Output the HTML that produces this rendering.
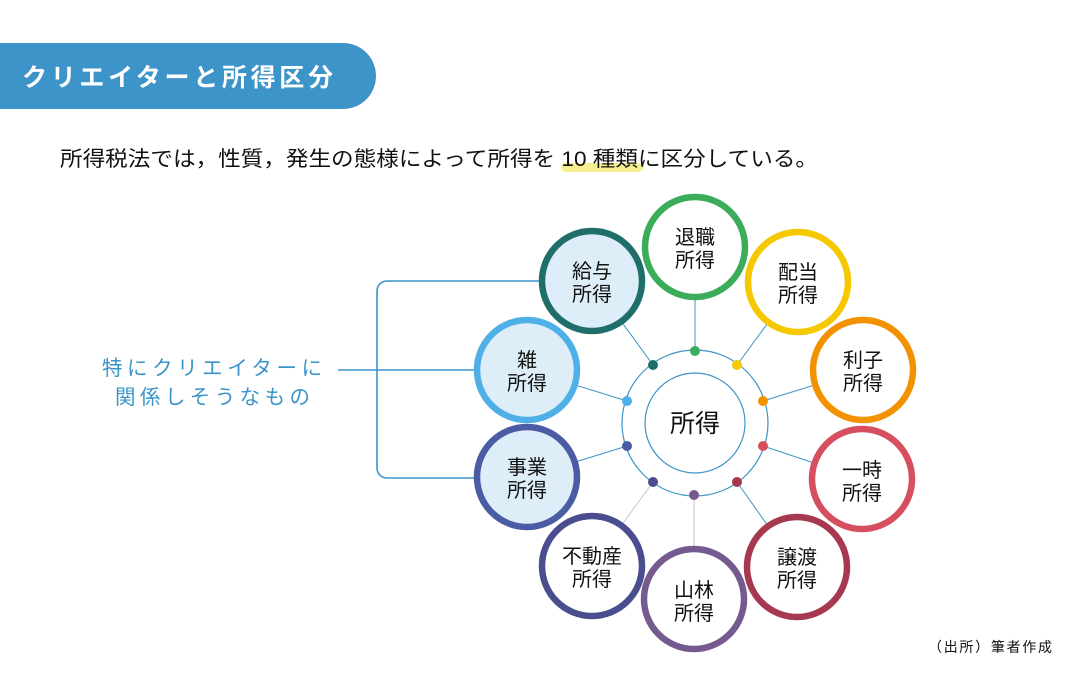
<!DOCTYPE html>
<html><head><meta charset="utf-8"><style>
body{margin:0;background:#fff;}
svg text{font-family:"Liberation Sans","Noto Sans CJK JP",sans-serif;}
</style></head><body>
<svg width="1087" height="691" viewBox="0 0 1087 691" xmlns="http://www.w3.org/2000/svg">
<rect width="1087" height="691" fill="#fff"/>
<path d="M0 43 H343 A33 33 0 0 1 343 109 H0 Z" fill="#3d94c8"/>
<text x="22" y="86" font-size="25" font-weight="bold" fill="#fff" textLength="311" lengthAdjust="spacing">クリエイターと所得区分</text>
<rect x="561" y="163" width="82" height="9" rx="4.5" fill="#f7ee8f"/>
<text x="60" y="166" font-size="21" fill="#111" textLength="758" lengthAdjust="spacingAndGlyphs">所得税法では，性質，発生の態様によって所得を 10 種類に区分している。</text>
<text x="102" y="375" font-size="20.5" fill="#3b94c9" textLength="220" lengthAdjust="spacing">特にクリエイターに</text>
<text x="115" y="404" font-size="20.5" fill="#3b94c9" textLength="195" lengthAdjust="spacing">関係しそうなもの</text>
<g fill="none" stroke="#3d94c8" stroke-width="1.6">
<path d="M545 281 H387 A10 10 0 0 0 377 291 V468 A10 10 0 0 0 387 478 H480"/>
<path d="M338 370 H480"/>
</g>
<g stroke="#3d94c8" stroke-width="1">
<line x1="695" y1="297" x2="695" y2="351"/>
<line x1="592" y1="281" x2="653" y2="365"/>
<line x1="798" y1="282" x2="737" y2="365"/>
<line x1="863" y1="370" x2="763" y2="401"/>
<line x1="527" y1="370" x2="627" y2="401"/>
<line x1="527" y1="477" x2="627" y2="446"/>
<line x1="862" y1="479" x2="763" y2="446"/>
<line x1="797" y1="567" x2="737" y2="482"/>
</g>
<g stroke="#c9c3d9" stroke-width="1">
<line x1="592" y1="566" x2="653" y2="482"/>
<line x1="694" y1="598" x2="694" y2="495"/>
</g>
<circle cx="695" cy="423" r="73" fill="#fff" stroke="#3d94c8" stroke-width="1.2"/>
<circle cx="695" cy="423" r="50" fill="#fff" stroke="#3d94c8" stroke-width="1.2"/>
<text x="695" y="432" font-size="25" text-anchor="middle" fill="#111">所得</text>
<circle cx="695" cy="351" r="5" fill="#3bac5a"/>
<circle cx="653" cy="365" r="5" fill="#1f6e6a"/>
<circle cx="737" cy="365" r="5" fill="#f5c800"/>
<circle cx="763" cy="401" r="5" fill="#f39200"/>
<circle cx="627" cy="401" r="5" fill="#4fb0e8"/>
<circle cx="627" cy="446" r="5" fill="#4b5ca5"/>
<circle cx="763" cy="446" r="5" fill="#d64f5f"/>
<circle cx="653" cy="482" r="5" fill="#4a4e8e"/>
<circle cx="737" cy="482" r="5" fill="#a6384f"/>
<circle cx="694" cy="495" r="5" fill="#745a8e"/>
<g stroke-width="6.5">
<circle cx="695" cy="247" r="50" fill="#fff" stroke="#3bac5a"/>
<circle cx="798" cy="282" r="50" fill="#fff" stroke="#f5c800"/>
<circle cx="863" cy="370" r="50" fill="#fff" stroke="#f39200"/>
<circle cx="862" cy="479" r="50" fill="#fff" stroke="#d64f5f"/>
<circle cx="797" cy="567" r="50" fill="#fff" stroke="#a6384f"/>
<circle cx="694" cy="599" r="50" fill="#fff" stroke="#745a8e"/>
<circle cx="592" cy="566" r="50" fill="#fff" stroke="#4a4e8e"/>
<circle cx="527" cy="477" r="50" fill="#ddeef9" stroke="#4b5ca5"/>
<circle cx="527" cy="370" r="50" fill="#ddeef9" stroke="#4fb0e8"/>
<circle cx="592" cy="281" r="50" fill="#ddeef9" stroke="#1f6e6a"/>
</g>
<g font-size="20" text-anchor="middle" fill="#111">
<text x="695" y="244">退職</text><text x="695" y="267">所得</text>
<text x="798" y="279">配当</text><text x="798" y="302">所得</text>
<text x="863" y="367">利子</text><text x="863" y="390">所得</text>
<text x="862" y="477">一時</text><text x="862" y="500">所得</text>
<text x="797" y="564">譲渡</text><text x="797" y="587">所得</text>
<text x="694" y="597">山林</text><text x="694" y="620">所得</text>
<text x="592" y="563">不動産</text><text x="592" y="586">所得</text>
<text x="527" y="474">事業</text><text x="527" y="497">所得</text>
<text x="527" y="367">雑</text><text x="527" y="390">所得</text>
<text x="592" y="278">給与</text><text x="592" y="301">所得</text>
</g>
<text x="928" y="652" font-size="14" fill="#111" textLength="124" lengthAdjust="spacing">（出所）筆者作成</text>
</svg>
</body></html>
